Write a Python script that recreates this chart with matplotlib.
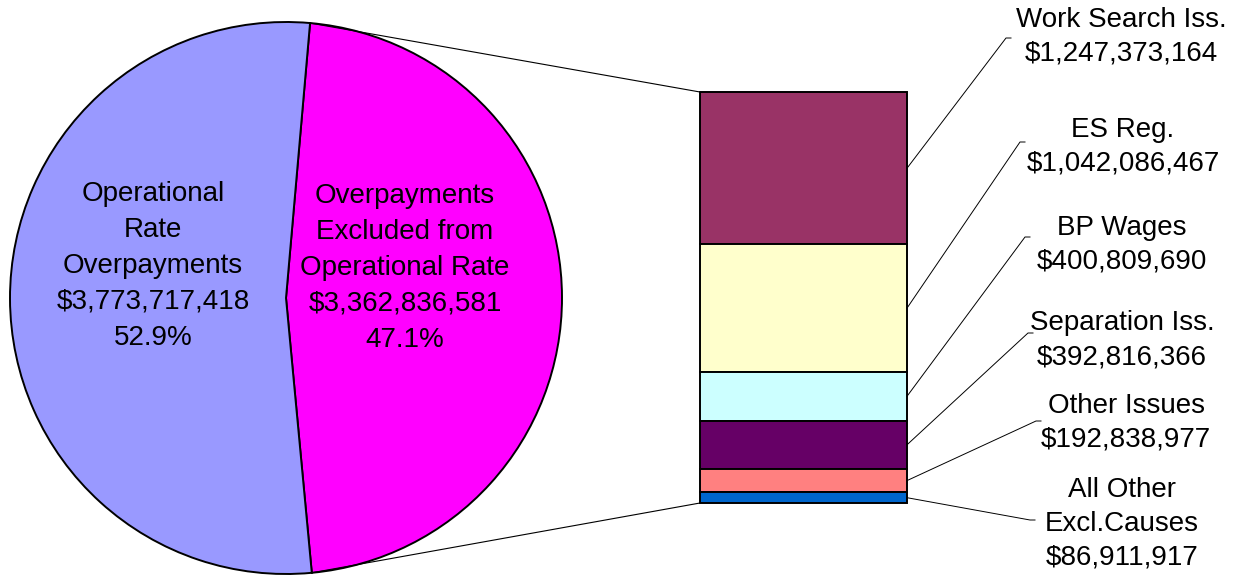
import numpy as np
import matplotlib
matplotlib.use("Agg")
import matplotlib.pyplot as plt

plt.rcParams['font.family'] = ['Liberation Sans', 'DejaVu Sans']

# ---- data ----
pie_labels = ["Overpayments\nExcluded from\nOperational Rate", "Operational\nRate\nOverpayments"]
pie_values = [3362836581, 3773717418]
pie_colors = ["#FF00FF", "#9999FF"]

bar_labels = ["Work Search Iss.", "ES Reg.", "BP Wages", "Separation Iss.",
              "Other Issues", "All Other\nExcl.Causes"]
bar_values = [1247373164, 1042086467, 400809690, 392816366, 192838977, 86911917]
bar_colors = ["#993366", "#FFFFCC", "#CCFFFF", "#660066", "#FF8080", "#0066CC"]

W, H = 1239, 576
fig = plt.figure(figsize=(W / 100, H / 100), dpi=100)
ax = fig.add_axes([0, 0, 1, 1])

def py(y):  # pixel-from-top to data y
    return H - y

# ---- pie ----
cx, cy, r = 286, py(298), 276
total = sum(pie_values)
frac0 = pie_values[0] / total
top_angle = 85.0
start = top_angle - frac0 * 360
wedges, _ = ax.pie(pie_values, colors=pie_colors, startangle=start, counterclock=True,
                   center=(cx, cy), radius=r, frame=True,
                   wedgeprops=dict(edgecolor="black", linewidth=1.4))
ax.set_xlim(0, W)
ax.set_ylim(0, H)
ax.set_aspect("equal")
ax.axis("off")

fs = 20
pct = [v / total * 100 for v in pie_values]
ax.text(405, py(268), f"{pie_labels[0]}\n${pie_values[0]:,}\n{pct[0]:.1f}%",
        ha="center", va="center", fontsize=fs, linespacing=1.5)
ax.text(153, py(266), f"{pie_labels[1]}\n${pie_values[1]:,}\n{pct[1]:.1f}%",
        ha="center", va="center", fontsize=fs, linespacing=1.5)

# ---- bar of pie ----
bx0, bx1 = 700, 907
btop, bbot = py(92), py(503)
scale = (btop - bbot) / sum(bar_values)
bottoms = []
b = bbot
for v in reversed(bar_values):
    bottoms.append(b)
    b += v * scale
bottoms = list(reversed(bottoms))
heights = [v * scale for v in bar_values]
ax.bar([(bx0 + bx1) / 2] * len(bar_values), heights, bottom=bottoms, width=bx1 - bx0,
       color=bar_colors, edgecolor="black", linewidth=1.4, zorder=3)

# connector lines pie -> bar
a_top = np.deg2rad(top_angle)
a_bot = np.deg2rad(start)
ax.plot([cx + r * np.cos(a_top), bx0], [cy + r * np.sin(a_top), btop], color="black", lw=0.8, zorder=1)
ax.plot([cx + r * np.cos(a_bot), bx0], [cy + r * np.sin(a_bot), bbot], color="black", lw=0.8, zorder=1)

# labels on the right
label_pos = [(1121, 37), (1123, 147), (1122, 245), (1122, 340), (1126, 423), (1122, 524)]
leader_end = [(1006, 38), (1020, 142), (1025, 237), (1028, 333), (1036, 421), (1030, 520)]
for lab, v, (lx, ly), (ex, ey), bot, h in zip(bar_labels, bar_values, label_pos,
                                              leader_end, bottoms, heights):
    ax.text(lx, py(ly), f"{lab}\n${v:,}", ha="center", va="center",
            fontsize=fs, linespacing=1.4)
    ax.plot([bx1, ex, ex + 5], [bot + h / 2, py(ey), py(ey)], color="black", lw=0.7, zorder=4)

fig.savefig("out.png", dpi=100, facecolor="white")
